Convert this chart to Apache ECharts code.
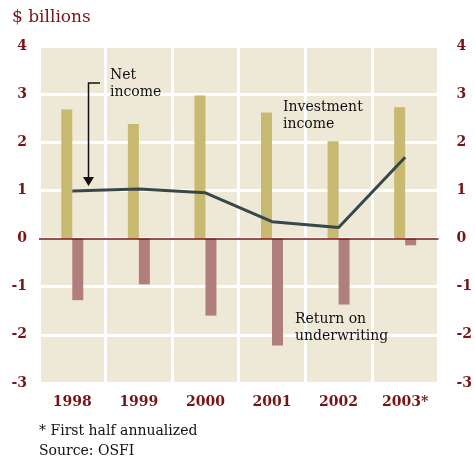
<!DOCTYPE html>
<html><head><meta charset="utf-8">
<script src="https://cdn.jsdelivr.net/npm/echarts@6/dist/echarts.min.js"></script>
<style>html,body{margin:0;padding:0;background:#fff}#c{width:475px;height:464px}</style>
</head><body><div id="c"></div>
<script>
var categories = ['1998','1999','2000','2001','2002','2003*'];
var investmentIncome = [2.68, 2.38, 2.97, 2.62, 2.02, 2.73];
var underwritingReturn = [-1.28, -0.95, -1.60, -2.22, -1.37, -0.14];
var netIncome = [0.99, 1.03, 0.95, 0.35, 0.23, 1.69];
var yTicks = [-3, -2, -1, 0, 1, 2, 3, 4];

var RED = '#7a1315';
var FONT = 'DejaVu Serif';
var chart = echarts.init(document.getElementById('c'), null, {renderer:'canvas'});
var yAxisBase = {
  type:'value', min: yTicks[0], max: yTicks[yTicks.length-1], interval:1,
  axisLine:{show:false}, axisTick:{show:false},
  splitLine:{show:true, lineStyle:{color:'#ffffff', width:3}}
};
var labelStyle = {color:RED, fontFamily:FONT, fontSize:14, fontWeight:'bold'};
chart.setOption({
  animation:false,
  backgroundColor:'#ffffff',
  grid:{left:39, right:31, top:46, bottom:81, show:true, backgroundColor:'#eee9d7', borderWidth:0},
  xAxis:{type:'category', data:categories, boundaryGap:true,
    axisLine:{show:false}, axisTick:{show:false},
    splitLine:{show:true, lineStyle:{color:'#ffffff', width:3}},
    axisLabel:Object.assign({margin:12}, labelStyle)},
  yAxis:[
    Object.assign({}, yAxisBase, {position:'left', axisLabel:Object.assign({margin:12}, labelStyle)}),
    Object.assign({}, yAxisBase, {position:'right', splitLine:{show:false}, axisLabel:Object.assign({margin:18}, labelStyle)})
  ],
  series:[
    {name:'Investment income', type:'bar', data:investmentIncome, barWidth:11, barGap:'0%',
      itemStyle:{color:'#c8b970'}, z:2,
      markLine:{silent:true, symbol:'none', label:{show:false},
        lineStyle:{color:RED, width:1.5, type:'solid'}, data:[{yAxis:0}]}},
    {name:'Return on underwriting', type:'bar', data:underwritingReturn, barWidth:11,
      itemStyle:{color:'#b07e7c'}, z:2},
    {name:'Net income', type:'line', data:netIncome, symbol:'none', z:5,
      lineStyle:{color:'#37474a', width:3}}
  ],
  graphic:[
    {type:'text', left:12, top:9, z:100, style:{text:'$ billions', fill:RED, font:'17px "DejaVu Serif"'}},
    {type:'text', left:110, top:67, z:100, style:{text:'Net\nincome', fill:'#111', font:'14px "DejaVu Serif"', lineHeight:17}},
    {type:'text', left:283, top:99, z:100, style:{text:'Investment\nincome', fill:'#111', font:'14px "DejaVu Serif"', lineHeight:17}},
    {type:'text', left:295, top:311, z:100, style:{text:'Return on\nunderwriting', fill:'#111', font:'14px "DejaVu Serif"', lineHeight:17}},
    {type:'polyline', z:100, shape:{points:[[100,83],[88.5,83],[88.5,178]]}, style:{stroke:'#111', lineWidth:1.5, fill:null}},
    {type:'polygon', z:100, shape:{points:[[83,177],[94,177],[88.5,186]]}, style:{fill:'#111'}},
    {type:'text', left:39, top:424, z:100, style:{text:'* First half annualized', fill:'#111', font:'14px "DejaVu Serif"'}},
    {type:'text', left:39, top:444, z:100, style:{text:'Source: OSFI', fill:'#111', font:'14px "DejaVu Serif"'}}
  ]
});
</script></body></html>
